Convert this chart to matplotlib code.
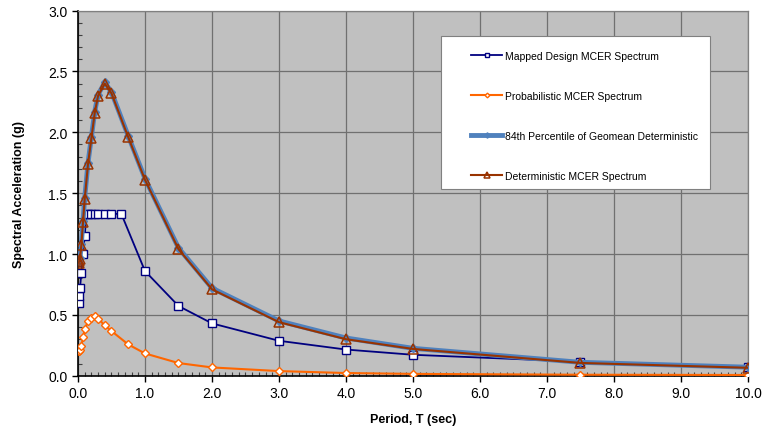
import matplotlib
matplotlib.use("Agg")
import matplotlib.pyplot as plt
from matplotlib.patches import Rectangle
from matplotlib.ticker import MultipleLocator, FormatStrFormatter

plt.rcParams['font.family'] = ['Liberation Sans', 'DejaVu Sans']

# Spectral periods (sec)
periods = [0.01, 0.02, 0.03, 0.05, 0.075, 0.1, 0.15, 0.2, 0.25, 0.3, 0.4,
           0.5, 0.75, 1.0, 1.5, 2.0, 3.0, 4.0, 5.0, 7.5, 10.0]

# Mapped design MCER spectrum (includes T0 and Ts corner periods)
mapped_periods = [0.01, 0.02, 0.03, 0.05, 0.075, 0.1, 0.129, 0.15, 0.2, 0.25,
                  0.3, 0.4, 0.5, 0.647, 1.0, 1.5, 2.0, 3.0, 4.0, 5.0, 7.5, 10.0]
mapped_sa = [0.594, 0.656, 0.718, 0.842, 0.996, 1.151, 1.33, 1.33, 1.33, 1.33,
             1.33, 1.33, 1.33, 1.33, 0.86, 0.573, 0.43, 0.287, 0.215, 0.172,
             0.115, 0.069]

probabilistic_sa = [0.200, 0.205, 0.215, 0.245, 0.315, 0.380, 0.450, 0.478,
                    0.490, 0.470, 0.413, 0.367, 0.257, 0.183, 0.104, 0.068,
                    0.038, 0.022, 0.015, 0.008, 0.006]

p84_geomean_sa = [0.94, 0.95, 0.97, 1.08, 1.27, 1.46, 1.75, 1.96, 2.17, 2.31,
                  2.41, 2.33, 1.97, 1.62, 1.05, 0.72, 0.45, 0.31, 0.225, 0.11,
                  0.07]

deterministic_sa = [0.93, 0.94, 0.96, 1.07, 1.26, 1.45, 1.74, 1.95, 2.16, 2.30,
                    2.40, 2.32, 1.96, 1.61, 1.04, 0.71, 0.44, 0.30, 0.22, 0.105,
                    0.065]

series_labels = ["Mapped Design MCER Spectrum",
                 "Probabilistic MCER Spectrum",
                 "84th Percentile of Geomean Deterministic",
                 "Deterministic MCER Spectrum"]

fig = plt.figure(figsize=(7.66, 4.35), dpi=100)
ax = fig.add_axes([0.1018, 0.134, 0.8747, 0.8393])
ax.set_facecolor('#C0C0C0')

ax.plot(mapped_periods, mapped_sa, color='#000080', lw=1.3, marker='s',
        ms=6, mfc='white', mec='#000080', mew=1.0, label=series_labels[0],
        zorder=3)
ax.plot(periods, probabilistic_sa, color='#FF6600', lw=1.5, marker='D',
        ms=4, mfc='white', mec='#FF6600', mew=1.0, label=series_labels[1],
        zorder=4)
ax.plot(periods, p84_geomean_sa, color='#4F81BD', lw=3.5, marker='D',
        ms=4.5, mfc='#4F81BD', mec='#4F81BD', label=series_labels[2],
        zorder=5)
ax.plot(periods, deterministic_sa, color='#993300', lw=1.5, marker='^',
        ms=6.5, mfc='none', mec='#993300', mew=1.1, label=series_labels[3],
        zorder=6)

ax.set_xlim(0, 10)
ax.set_ylim(0, 3)
ax.xaxis.set_major_locator(MultipleLocator(1.0))
ax.xaxis.set_minor_locator(MultipleLocator(0.1))
ax.yaxis.set_major_locator(MultipleLocator(0.5))
ax.yaxis.set_minor_locator(MultipleLocator(0.1))
ax.xaxis.set_major_formatter(FormatStrFormatter('%.1f'))
ax.yaxis.set_major_formatter(FormatStrFormatter('%.1f'))

ax.grid(which='major', color='#707070', lw=0.9, zorder=0)
ax.set_axisbelow(True)

ax.tick_params(which='major', direction='out', length=4, width=1,
               labelsize=10, color='black')
ax.tick_params(which='minor', direction='in', length=3, width=0.8,
               color='#404040')

for side in ('left', 'bottom'):
    ax.spines[side].set_color('black')
    ax.spines[side].set_linewidth(1.2)
for side in ('top', 'right'):
    ax.spines[side].set_color('#808080')
    ax.spines[side].set_linewidth(0.9)

ax.set_xlabel('Period, T (sec)', fontsize=9, fontweight='bold', labelpad=9)
ax.set_ylabel('Spectral Acceleration (g)', fontsize=9, fontweight='bold',
              labelpad=16.5)

# Legend box (white panel) with the entries placed inside it
ax.add_patch(Rectangle((0.5418, 0.5115), 0.4015, 0.4192,
                       transform=ax.transAxes, facecolor='white',
                       edgecolor='#808080', lw=0.8, zorder=10,
                       clip_on=False))
leg = ax.legend(loc='upper left', bbox_to_anchor=(0.5866, 0.8895),
                borderaxespad=0, borderpad=0, fontsize=7.5, frameon=False,
                labelspacing=2.87, handlelength=3.0, handletextpad=0.25,
                markerscale=0.6)
leg.set_zorder(11)

fig.savefig('out.png', dpi=100)
